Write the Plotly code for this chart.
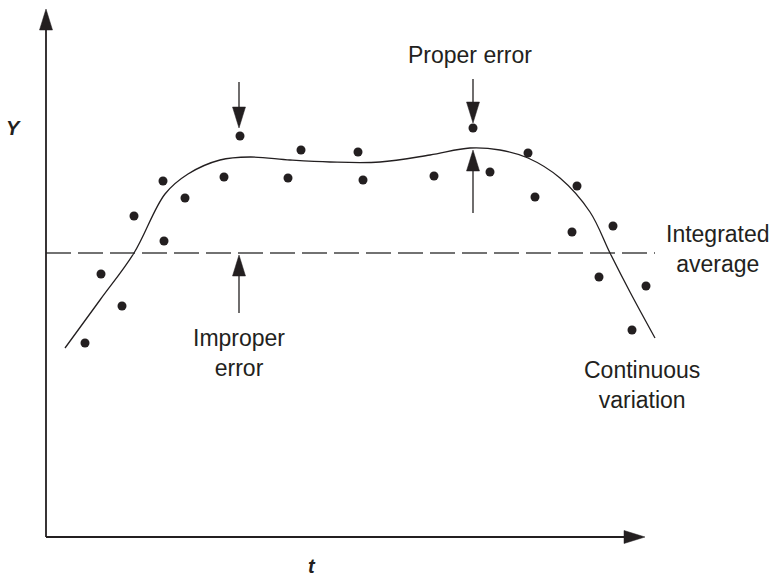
import plotly.graph_objects as go

# ---- data (arbitrary schematic units: t horizontal, Y vertical) ----
point_t = [3.9, 5.5, 7.6, 8.8, 11.7, 11.8, 13.9, 17.8, 19.4, 24.2, 25.5, 31.2,
           31.7, 38.8, 42.7, 44.4, 48.2, 48.9, 53.1, 52.6, 56.7, 55.3, 60.0, 58.6]
point_y = [19.4, 26.3, 23.1, 32.1, 35.6, 29.6, 33.9, 36.0, 40.1, 35.9, 38.7, 38.5,
           35.7, 36.1, 40.9, 36.5, 38.4, 34.0, 35.1, 30.5, 31.1, 26.0, 25.1, 20.7]

curve_t = [1.9, 5.4, 8.8, 11.9, 14.2, 17.4, 20.4, 24.4, 28.4, 33.4, 38.4, 42.4,
           45.4, 48.2, 51.4, 54.4, 56.4, 58.4, 60.9]
curve_y = [18.9, 23.7, 28.4, 34.3, 36.3, 37.7, 38.0, 37.7, 37.5, 37.5, 38.2, 38.9,
           38.7, 37.9, 35.9, 32.5, 28.4, 24.5, 19.9]

average_y = 28.4
average_t_range = [0.0, 60.9]

# vertical arrows: (t, start Y, tip Y)
arrow_t = [19.3, 42.7, 42.7, 19.3]
arrow_from = [45.5, 45.8, 32.4, 22.4]
arrow_to = [40.9, 41.4, 38.7, 28.2]

# axes extents
t_axis_end = 59.9
y_axis_end = 52.8

labels = ["Proper error", "Improper<br>error", "Integrated<br>average", "Continuous<br>variation"]
label_t = [42.4, 19.3, 67.2, 59.6]
label_y = [48.2, 18.4, 28.8, 15.2]

# ---- styling ----
INK = "#231f20"
HEAD_LEN = 2.1     # arrow head length (units)
HEAD_HALF = 0.65   # arrow head half-width (units)
FONT = "Liberation Sans, Arial, sans-serif"

fig = go.Figure()

# dashed integrated average
fig.add_trace(go.Scatter(x=average_t_range, y=[average_y, average_y], mode="lines",
                         line=dict(color="#444444", width=1.3, dash="25px,7px"),
                         hoverinfo="skip", showlegend=False))
# continuous curve
fig.add_trace(go.Scatter(x=curve_t, y=curve_y, mode="lines",
                         line=dict(color=INK, width=1.3, shape="spline", smoothing=1.0),
                         hoverinfo="skip", showlegend=False))
# data points
fig.add_trace(go.Scatter(x=point_t, y=point_y, mode="markers",
                         marker=dict(color=INK, size=9),
                         hoverinfo="skip", showlegend=False))

shapes = []
# axes
shapes.append(dict(type="line", xref="x", yref="y", x0=0, y0=0, x1=t_axis_end - HEAD_LEN + 0.2, y1=0,
                   line=dict(color=INK, width=1.8)))
shapes.append(dict(type="line", xref="x", yref="y", x0=0, y0=0, x1=0, y1=y_axis_end - HEAD_LEN + 0.2,
                   line=dict(color=INK, width=1.8)))
shapes.append(dict(type="path", xref="x", yref="y",
                   path=f"M {t_axis_end} 0 L {t_axis_end - HEAD_LEN} {HEAD_HALF} L {t_axis_end - HEAD_LEN} {-HEAD_HALF} Z",
                   fillcolor=INK, line=dict(color=INK, width=0.5)))
shapes.append(dict(type="path", xref="x", yref="y",
                   path=f"M 0 {y_axis_end} L {HEAD_HALF} {y_axis_end - HEAD_LEN} L {-HEAD_HALF} {y_axis_end - HEAD_LEN} Z",
                   fillcolor=INK, line=dict(color=INK, width=0.5)))

for t, y0, y1 in zip(arrow_t, arrow_from, arrow_to):
    d = 1 if y1 > y0 else -1
    base = y1 - d * HEAD_LEN
    shapes.append(dict(type="line", xref="x", yref="y", x0=t, y0=y0, x1=t, y1=base,
                       line=dict(color=INK, width=1.3)))
    shapes.append(dict(type="path", xref="x", yref="y",
                       path=f"M {t} {y1} L {t + HEAD_HALF} {base} L {t - HEAD_HALF} {base} Z",
                       fillcolor=INK, line=dict(color=INK, width=0.5)))

annotations = []
for txt, t, y in zip(labels, label_t, label_y):
    annotations.append(dict(text=txt, x=t, y=y, xref="x", yref="y", showarrow=False,
                            xanchor="center", yanchor="middle", align="center",
                            font=dict(family=FONT, size=23, color=INK)))
annotations.append(dict(text="<b><i>Y</i></b>", x=-3.3, y=40.9, xref="x", yref="y", showarrow=False,
                        xanchor="center", yanchor="middle", font=dict(family=FONT, size=20, color=INK)))
annotations.append(dict(text="<b><i>t</i></b>", x=26.6, y=-2.9, xref="x", yref="y", showarrow=False,
                        xanchor="center", yanchor="middle", font=dict(family=FONT, size=20, color=INK)))

fig.update_layout(
    width=771, height=577,
    margin=dict(l=0, r=0, t=0, b=0),
    paper_bgcolor="white", plot_bgcolor="white",
    shapes=shapes, annotations=annotations,
    xaxis=dict(range=[-4.6, 72.5], visible=False, fixedrange=True),
    yaxis=dict(range=[-4.0, 53.7], visible=False, fixedrange=True),
    showlegend=False,
)

fig.write_html("out.html", config={"displayModeBar": False},
               post_script="document.body.style.margin='0';document.body.style.overflow='hidden';")
